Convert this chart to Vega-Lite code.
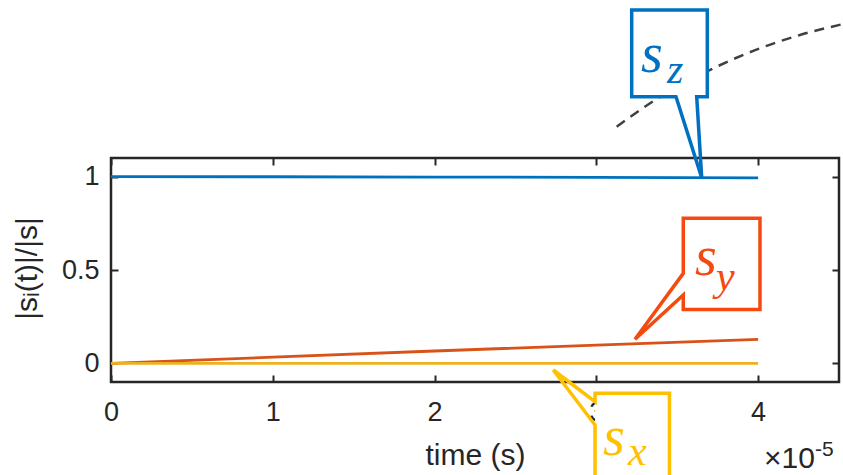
{
  "$schema": "https://vega.github.io/schema/vega-lite/v6.json",
  "width": 728,
  "height": 224,
  "autosize": {"type": "none"},
  "padding": {"left": 111, "top": 158, "right": 4, "bottom": 93},
  "background": "white",
  "config": {
    "view": {"stroke": "#262626", "strokeWidth": 2.5},
    "axis": {
      "labelFont": "Liberation Sans",
      "titleFont": "Liberation Sans",
      "labelFontSize": 27,
      "titleFontSize": 30,
      "labelColor": "#262626",
      "titleColor": "#262626",
      "titleFontWeight": "normal",
      "domain": false,
      "grid": false,
      "tickColor": "#262626",
      "tickWidth": 2,
      "tickSize": -7,
      "labelFlush": false,
      "labelOverlap": false
    }
  },
  "datasets": {
    "lines": [
      {"series": "s_z", "t": 0, "v": 1},
      {"series": "s_z", "t": 0.00001, "v": 0.9995},
      {"series": "s_z", "t": 0.00002, "v": 0.998},
      {"series": "s_z", "t": 0.00003, "v": 0.996},
      {"series": "s_z", "t": 0.00004, "v": 0.993},
      {"series": "s_y", "t": 0, "v": 0},
      {"series": "s_y", "t": 0.00001, "v": 0.033},
      {"series": "s_y", "t": 0.00002, "v": 0.066},
      {"series": "s_y", "t": 0.00003, "v": 0.098},
      {"series": "s_y", "t": 0.00004, "v": 0.128},
      {"series": "s_x", "t": 0, "v": 0},
      {"series": "s_x", "t": 0.00001, "v": 0},
      {"series": "s_x", "t": 0.00002, "v": 0},
      {"series": "s_x", "t": 0.00003, "v": 0},
      {"series": "s_x", "t": 0.00004, "v": 0}
    ],
    "curve": [
      {"i": 0, "t": 0.000031258, "v": 1.2677},
      {"i": 1, "t": 0.000033626, "v": 1.4107},
      {"i": 2, "t": 0.000037229, "v": 1.5805},
      {"i": 3, "t": 0.000040116, "v": 1.6877},
      {"i": 4, "t": 0.000042589, "v": 1.7589},
      {"i": 5, "t": 0.000045266, "v": 1.8179}
    ],
    "boxes": [
      {"series": "callout s_z", "t": 0.000032186, "t2": 0.000036859, "v": 1.4284, "v2": 1.8928},
      {"series": "callout s_y", "t": 0.000035375, "t2": 0.000040116, "v": 0.2884, "v2": 0.777},
      {"series": "callout s_x", "t": 0.00002992, "t2": 0.00003452, "v": -0.6786, "v2": -0.1605}
    ],
    "outline": [
      {"series": "callout s_z", "i": 0, "t": 0.000032186, "v": 1.8928},
      {"series": "callout s_z", "i": 1, "t": 0.000036859, "v": 1.8928},
      {"series": "callout s_z", "i": 2, "t": 0.000036859, "v": 1.4284},
      {"series": "callout s_z", "i": 3, "t": 0.000036204, "v": 1.4284},
      {"series": "callout s_z", "i": 4, "t": 0.000036513, "v": 0.9945},
      {"series": "callout s_z", "i": 5, "t": 0.000034924, "v": 1.4284},
      {"series": "callout s_z", "i": 6, "t": 0.000032186, "v": 1.4284},
      {"series": "callout s_z", "i": 7, "t": 0.000032186, "v": 1.8928},
      {"series": "callout s_z", "i": 8, "t": 0.000036859, "v": 1.8928},
      {"series": "callout s_y", "i": 0, "t": 0.000035375, "v": 0.777},
      {"series": "callout s_y", "i": 1, "t": 0.000040116, "v": 0.777},
      {"series": "callout s_y", "i": 2, "t": 0.000040116, "v": 0.2884},
      {"series": "callout s_y", "i": 3, "t": 0.000035375, "v": 0.2884},
      {"series": "callout s_y", "i": 4, "t": 0.000035375, "v": 0.366},
      {"series": "callout s_y", "i": 5, "t": 0.00003239, "v": 0.129},
      {"series": "callout s_y", "i": 6, "t": 0.000035375, "v": 0.482},
      {"series": "callout s_y", "i": 7, "t": 0.000035375, "v": 0.777},
      {"series": "callout s_y", "i": 8, "t": 0.000040116, "v": 0.777},
      {"series": "callout s_x", "i": 0, "t": 0.00002992, "v": -0.1605},
      {"series": "callout s_x", "i": 1, "t": 0.00003452, "v": -0.1605},
      {"series": "callout s_x", "i": 2, "t": 0.00003452, "v": -0.6786},
      {"series": "callout s_x", "i": 3, "t": 0.00002992, "v": -0.6786},
      {"series": "callout s_x", "i": 4, "t": 0.00002992, "v": -0.3303},
      {"series": "callout s_x", "i": 5, "t": 0.00002734, "v": -0.0357},
      {"series": "callout s_x", "i": 6, "t": 0.00002992, "v": -0.2055},
      {"series": "callout s_x", "i": 7, "t": 0.00002992, "v": -0.1605},
      {"series": "callout s_x", "i": 8, "t": 0.00003452, "v": -0.1605}
    ],
    "labels": [
      {"series": "callout s_z", "t": 0.000032761, "v": 1.5607, "main": "s", "t_sub": 0.000034368, "v_sub": 1.5018, "sub": "z"},
      {"series": "callout s_y", "t": 0.000036098, "v": 0.4732, "main": "s", "t_sub": 0.000037396, "v_sub": 0.3929, "sub": "y"},
      {"series": "callout s_x", "t": 0.000030412, "v": -0.491, "main": "s", "t_sub": 0.000031957, "v_sub": -0.5446, "sub": "x"}
    ],
    "exponent": [
      {"t": 0.000043516, "v": -0.5607, "base": "×10", "v_exp": -0.4964, "exp": "-5"}
    ]
  },
  "layer": [
    {
      "data": {"name": "lines"},
      "mark": {"type": "line", "strokeWidth": 2.8},
      "encoding": {
        "x": {
          "field": "t", "type": "quantitative",
          "scale": {"domain": [0, 0.000045], "nice": false, "zero": false},
          "axis": {
            "orient": "bottom",
            "values": [0, 0.00001, 0.00002, 0.00003, 0.00004],
            "labelExpr": "format(datum.value * 100000, 'd')",
            "labelBaseline": "alphabetic",
            "labelPadding": 45,
            "title": "time (s)",
            "titleX": 364,
            "titleY": 73,
            "titleBaseline": "middle"
          }
        },
        "y": {
          "field": "v", "type": "quantitative",
          "scale": {"domain": [-0.1, 1.1], "nice": false, "zero": false},
          "axis": {
            "orient": "left",
            "values": [0, 0.5, 1],
            "format": "~g",
            "labelPadding": 19,
            "title": "|sᵢ(t)|/|s|",
            "titleX": -83.5,
            "titleY": 110,
            "titleAngle": -90,
            "titleBaseline": "middle"
          }
        },
        "color": {
          "field": "series", "type": "nominal",
          "scale": {
            "domain": ["s_z", "s_y", "s_x", "callout s_z", "callout s_y", "callout s_x"],
            "range": ["#0072BD", "#D95319", "#EDB120", "#0070C0", "#F44A0F", "#FFC000"]
          },
          "legend": null
        }
      }
    },
    {
      "data": {"name": "lines"},
      "mark": {"type": "line", "opacity": 0},
      "encoding": {
        "x": {
          "field": "t", "type": "quantitative",
          "scale": {"domain": [0, 0.000045], "nice": false, "zero": false},
          "axis": {"orient": "top", "values": [0, 0.00001, 0.00002, 0.00003, 0.00004], "labels": false, "title": null}
        },
        "y": {
          "field": "v", "type": "quantitative",
          "scale": {"domain": [-0.1, 1.1], "nice": false, "zero": false},
          "axis": {"orient": "right", "values": [0, 0.5, 1], "labels": false, "title": null}
        }
      }
    },
    {
      "data": {"name": "curve"},
      "mark": {"type": "line", "color": "#404040", "strokeWidth": 2.5, "strokeDash": [10, 7], "interpolate": "monotone"},
      "encoding": {
        "x": {"field": "t", "type": "quantitative", "scale": {"domain": [0, 0.000045], "nice": false, "zero": false}, "axis": null},
        "y": {"field": "v", "type": "quantitative", "scale": {"domain": [-0.1, 1.1], "nice": false, "zero": false}, "axis": null},
        "order": {"field": "i", "type": "quantitative"}
      }
    },
    {
      "data": {"name": "boxes"},
      "mark": {"type": "rect", "fill": "white"},
      "encoding": {
        "x": {"field": "t", "type": "quantitative", "scale": {"domain": [0, 0.000045], "nice": false, "zero": false}, "axis": null},
        "x2": {"field": "t2"},
        "y": {"field": "v", "type": "quantitative", "scale": {"domain": [-0.1, 1.1], "nice": false, "zero": false}, "axis": null},
        "y2": {"field": "v2"}
      }
    },
    {
      "data": {"name": "outline"},
      "mark": {"type": "line", "strokeWidth": 3.5, "strokeJoin": "miter"},
      "encoding": {
        "x": {"field": "t", "type": "quantitative", "scale": {"domain": [0, 0.000045], "nice": false, "zero": false}, "axis": null},
        "y": {"field": "v", "type": "quantitative", "scale": {"domain": [-0.1, 1.1], "nice": false, "zero": false}, "axis": null},
        "order": {"field": "i", "type": "quantitative"},
        "color": {
          "field": "series", "type": "nominal",
          "scale": {
            "domain": ["s_z", "s_y", "s_x", "callout s_z", "callout s_y", "callout s_x"],
            "range": ["#0072BD", "#D95319", "#EDB120", "#0070C0", "#F44A0F", "#FFC000"]
          },
          "legend": null
        }
      }
    },
    {
      "data": {"name": "labels"},
      "mark": {"type": "text", "font": "Liberation Serif", "fontStyle": "italic", "fontSize": 56, "align": "left", "baseline": "alphabetic"},
      "encoding": {
        "x": {"field": "t", "type": "quantitative", "scale": {"domain": [0, 0.000045], "nice": false, "zero": false}, "axis": null},
        "y": {"field": "v", "type": "quantitative", "scale": {"domain": [-0.1, 1.1], "nice": false, "zero": false}, "axis": null},
        "text": {"field": "main"},
        "color": {
          "field": "series", "type": "nominal",
          "scale": {
            "domain": ["s_z", "s_y", "s_x", "callout s_z", "callout s_y", "callout s_x"],
            "range": ["#0072BD", "#D95319", "#EDB120", "#0070C0", "#F44A0F", "#FFC000"]
          },
          "legend": null
        }
      }
    },
    {
      "data": {"name": "labels"},
      "mark": {"type": "text", "font": "Liberation Serif", "fontStyle": "italic", "fontSize": 42, "align": "left", "baseline": "alphabetic"},
      "encoding": {
        "x": {"field": "t_sub", "type": "quantitative", "scale": {"domain": [0, 0.000045], "nice": false, "zero": false}, "axis": null},
        "y": {"field": "v_sub", "type": "quantitative", "scale": {"domain": [-0.1, 1.1], "nice": false, "zero": false}, "axis": null},
        "text": {"field": "sub"},
        "color": {
          "field": "series", "type": "nominal",
          "scale": {
            "domain": ["s_z", "s_y", "s_x", "callout s_z", "callout s_y", "callout s_x"],
            "range": ["#0072BD", "#D95319", "#EDB120", "#0070C0", "#F44A0F", "#FFC000"]
          },
          "legend": null
        }
      }
    },
    {
      "data": {"name": "exponent"},
      "mark": {"type": "text", "font": "Liberation Sans", "fontSize": 30, "align": "right", "baseline": "alphabetic", "color": "#262626"},
      "encoding": {
        "x": {"field": "t", "type": "quantitative", "scale": {"domain": [0, 0.000045], "nice": false, "zero": false}, "axis": null},
        "y": {"field": "v", "type": "quantitative", "scale": {"domain": [-0.1, 1.1], "nice": false, "zero": false}, "axis": null},
        "text": {"field": "base"}
      }
    },
    {
      "data": {"name": "exponent"},
      "mark": {"type": "text", "font": "Liberation Sans", "fontSize": 21, "align": "left", "baseline": "alphabetic", "color": "#262626"},
      "encoding": {
        "x": {"field": "t", "type": "quantitative", "scale": {"domain": [0, 0.000045], "nice": false, "zero": false}, "axis": null},
        "y": {"field": "v_exp", "type": "quantitative", "scale": {"domain": [-0.1, 1.1], "nice": false, "zero": false}, "axis": null},
        "text": {"field": "exp"}
      }
    }
  ],
  "resolve": {"axis": {"x": "independent", "y": "independent"}}
}
